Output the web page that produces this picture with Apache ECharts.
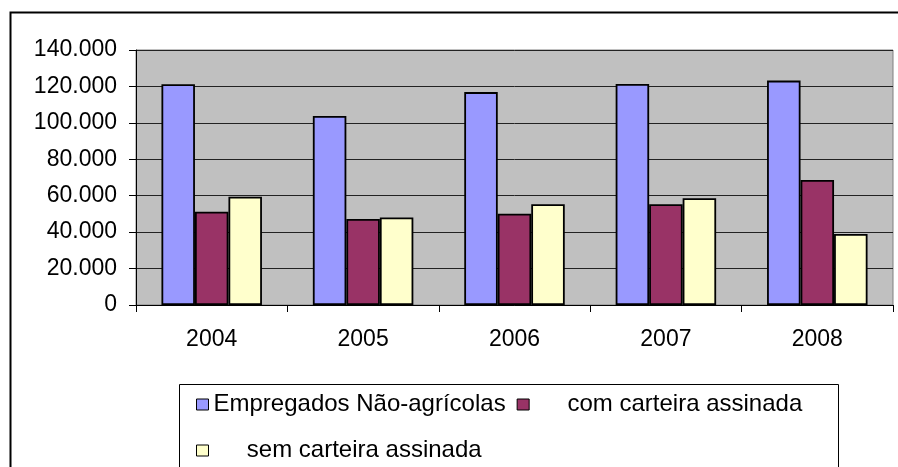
<!DOCTYPE html>
<html>
<head>
<meta charset="utf-8">
<script src="https://cdn.jsdelivr.net/npm/echarts@6/dist/echarts.min.js"></script>
<style>
  html, body { margin: 0; padding: 0; background: #fff; }
  #myChart { width: 898px; height: 467px; }
</style>
</head>
<body>
<div id="myChart"></div>
<script>
// dados
var anos = ['2004', '2005', '2006', '2007', '2008'];
var naoAgricolas = [121200, 103800, 116900, 121300, 123200];
var comCarteira = [51200, 47200, 50100, 55300, 68600];
var semCarteira = [59500, 48100, 55300, 58600, 39000];
var nomes = ['Empregados Não-agrícolas', '     com carteira assinada', '     sem carteira assinada'];
var cores = ['#9999FF', '#993366', '#FFFFCC'];

var fonte = '"Liberation Sans", Arial, sans-serif';

function milhar(v) {
  return String(v).replace(/\B(?=(\d{3})+(?!\d))/g, '.');
}

var myChart = echarts.init(document.getElementById('myChart'));

function serie(nome, dados, cor) {
  return {
    name: nome,
    type: 'bar',
    data: dados,
    barWidth: 33.5,
    barGap: '0%',
    itemStyle: { color: cor, borderColor: '#000', borderWidth: 1.8 },
    animation: false
  };
}

var option = {
  animation: false,
  textStyle: { fontFamily: fonte },
  graphic: [
    // moldura externa
    { type: 'rect', left: 8, top: 10, shape: { width: 1000, height: 1000 },
      style: { fill: 'none', stroke: '#000', lineWidth: 2 }, z: 0 },
    // caixa da legenda
    { type: 'rect', left: 179, top: 384, shape: { width: 659, height: 100 },
      style: { fill: '#fff', stroke: '#000', lineWidth: 1 }, z: 1 }
  ],
  grid: {
    left: 136, right: 5, top: 50, bottom: 162,
    show: true, backgroundColor: '#C0C0C0', borderColor: '#808080', borderWidth: 1
  },
  legend: {
    left: 196,
    top: 387,
    width: 640,
    padding: 0,
    itemGap: 11,
    itemWidth: 12,
    itemHeight: 11,
    itemTextGap: 8,
    icon: 'rect',
    itemStyle: { borderColor: '#000', borderWidth: 1 },
    textStyle: { fontSize: 24, color: '#000', fontFamily: fonte, lineHeight: 35 },
    data: nomes,
    z: 5
  },
  xAxis: {
    type: 'category',
    data: anos,
    axisLine: { lineStyle: { color: '#000', width: 1 } },
    axisTick: { show: true, length: 7, lineStyle: { color: '#000' } },
    axisLabel: { fontSize: 23, color: '#000', margin: 23, fontFamily: fonte }
  },
  yAxis: {
    type: 'value',
    min: 0,
    max: 140000,
    interval: 20000,
    axisLine: { show: true, lineStyle: { color: '#000', width: 1 } },
    axisTick: { show: true, length: 7, lineStyle: { color: '#000' } },
    splitLine: { show: true, lineStyle: { color: '#222', width: 1 } },
    axisLabel: { fontSize: 23, color: '#000', margin: 19, fontFamily: fonte, formatter: milhar }
  },
  series: [
    serie(nomes[0], naoAgricolas, cores[0]),
    serie(nomes[1], comCarteira, cores[1]),
    serie(nomes[2], semCarteira, cores[2])
  ]
};

myChart.setOption(option);
</script>
</body>
</html>
